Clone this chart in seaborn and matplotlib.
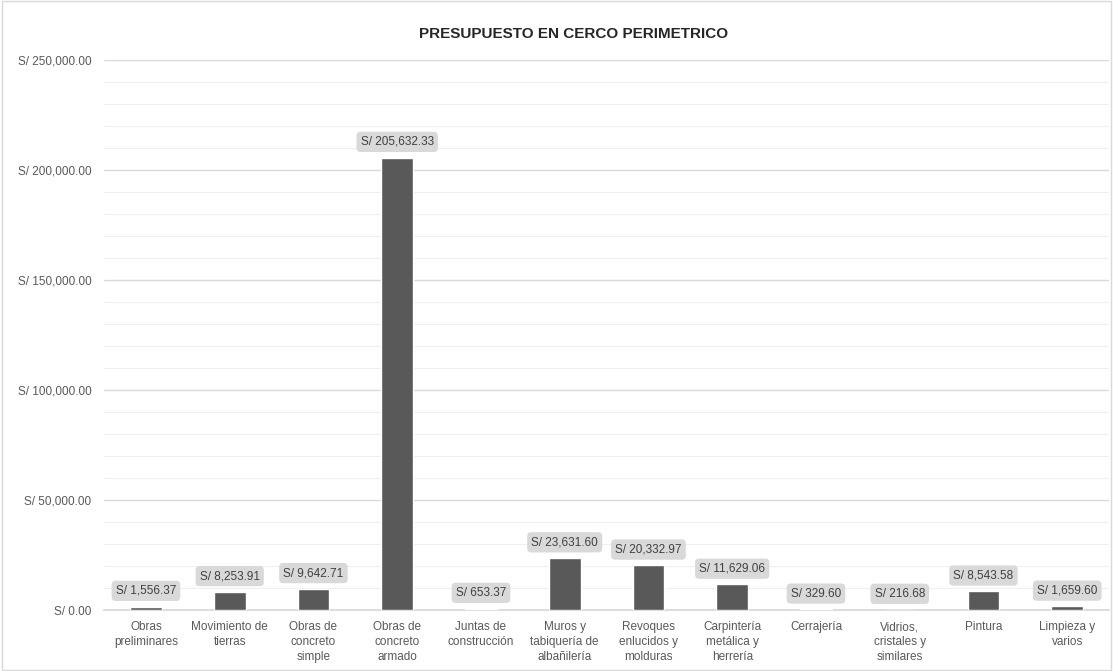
import matplotlib
matplotlib.use("Agg")
import matplotlib.pyplot as plt
import seaborn as sns
import pandas as pd
from matplotlib.ticker import FuncFormatter, MultipleLocator

categories = ["Obras\npreliminares", "Movimiento de\ntierras", "Obras de\nconcreto\nsimple",
              "Obras de\nconcreto\narmado", "Juntas de\nconstrucción", "Muros y\ntabiquería de\nalbañilería",
              "Revoques\nenlucidos y\nmolduras", "Carpintería\nmetálica y\nherrería", "Cerrajería",
              "Vidrios,\ncristales y\nsimilares", "Pintura", "Limpieza y\nvarios"]
values = [1556.37, 8253.91, 9642.71, 205632.33, 653.37, 23631.60, 20332.97, 11629.06,
          329.60, 216.68, 8543.58, 1659.60]
title = "PRESUPUESTO EN CERCO PERIMETRICO"

sns.set_theme(style="white")
plt.rcParams['font.family'] = ['Liberation Sans', 'DejaVu Sans']

df = pd.DataFrame({"cat": categories, "val": values})

fig = plt.figure(figsize=(11.13, 6.71), dpi=100)
ax = fig.add_axes([0.0935, 0.0909, 0.903, 0.8197])
sns.barplot(data=df, x="cat", y="val", color="#595959", width=0.38, ax=ax, zorder=3,
            saturation=1)

ax.set_ylim(0, 250000)
ax.yaxis.set_major_locator(MultipleLocator(50000))
ax.yaxis.set_minor_locator(MultipleLocator(10000))
ax.grid(which="major", axis="y", color="#d9d9d9", linewidth=1.0, zorder=0)
ax.grid(which="minor", axis="y", color="#efefef", linewidth=0.8, zorder=0)
ax.set_axisbelow(True)
ax.yaxis.set_major_formatter(FuncFormatter(lambda v, p: f"S/ {v:,.2f}"))
ax.tick_params(axis="y", which="both", length=0, labelsize=8.5, labelcolor="#595959", pad=9)
ax.tick_params(axis="x", length=0, labelsize=8.5, labelcolor="#595959", pad=8)
for lbl in ax.get_xticklabels():
    lbl.set_linespacing(1.35)
for s in ["top", "right", "left"]:
    ax.spines[s].set_visible(False)
ax.spines["bottom"].set_color("#d9d9d9")
ax.set_xlabel("")
ax.set_ylabel("")

for i, v in enumerate(values):
    ax.annotate(f"S/ {v:,.2f}", (i, v), xytext=(0, 7), textcoords="offset points",
                ha="center", va="bottom", fontsize=8.5, color="#404040",
                bbox=dict(boxstyle="round,pad=0.35", fc="#d9d9d9", ec="none"))

fig.text(0.515, 0.949, title, ha="center", va="center", fontsize=11, fontweight="bold",
         color="#262626")

border = plt.Rectangle((0.002, 0.002), 0.996, 0.996, transform=fig.transFigure,
                       fill=False, ec="#d9d9d9", lw=1)
fig.patches.append(border)

fig.savefig("out.png", dpi=100)
